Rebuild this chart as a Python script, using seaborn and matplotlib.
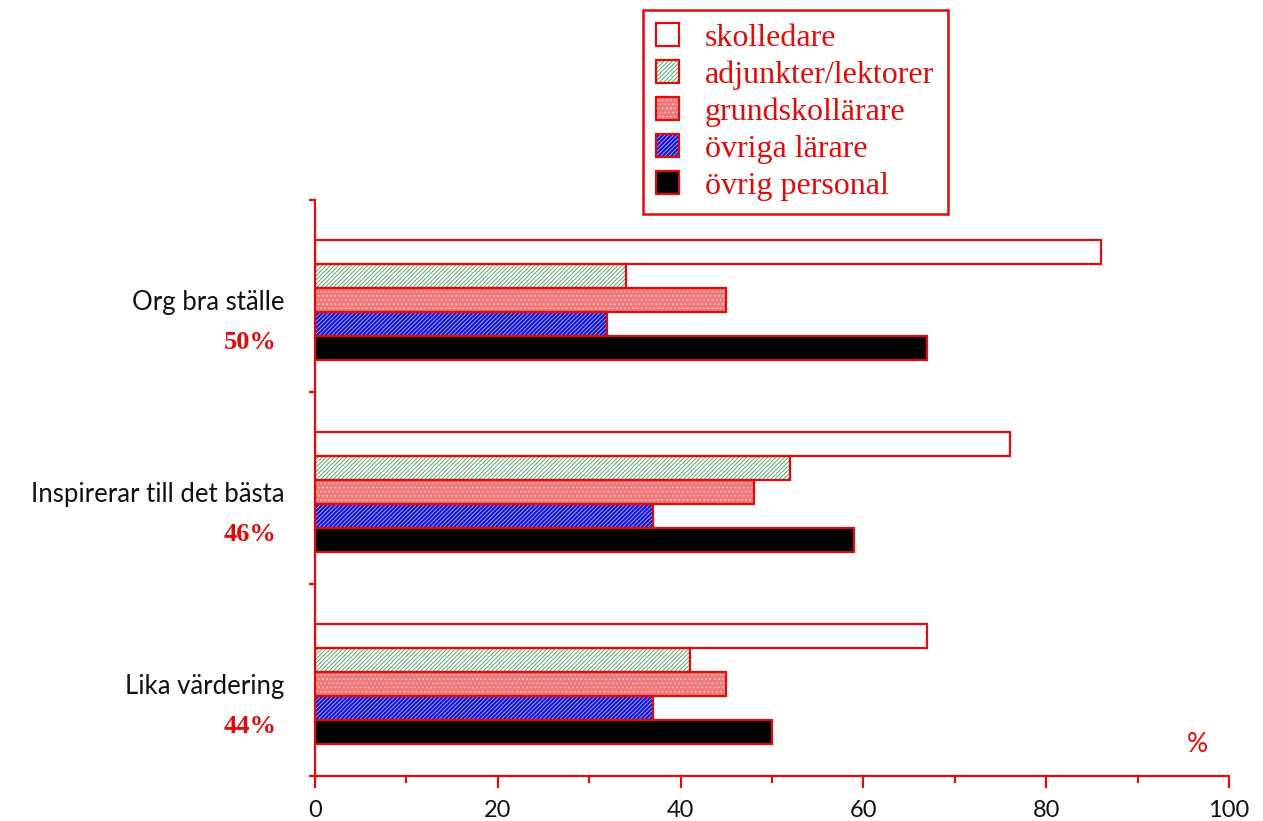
import numpy as np
import pandas as pd
import seaborn as sns
import matplotlib
matplotlib.use("Agg")
import matplotlib.pyplot as plt
import matplotlib.transforms as mtransforms
from matplotlib.patches import Patch, Rectangle
from matplotlib.ticker import MultipleLocator, FixedLocator, NullFormatter

# ---- data ----
categories = ["Org bra ställe", "Inspirerar till det bästa", "Lika värdering"]
totals = ["50%", "46%", "44%"]
groups = ["skolledare", "adjunkter/lektorer", "grundskollärare",
          "övriga lärare", "övrig personal"]
skolledare = [86, 76, 67]
adjunkter_lektorer = [34, 52, 41]
grundskollarare = [45, 48, 45]
ovriga_larare = [32, 37, 37]
ovrig_personal = [67, 59, 50]

series = [skolledare, adjunkter_lektorer, grundskollarare, ovriga_larare, ovrig_personal]
df = pd.DataFrame({
    "kategori": np.repeat([categories], len(groups), axis=0).ravel(),
    "grupp": np.repeat(groups, len(categories)),
    "andel": np.concatenate(series),
})

# ---- styling ----
RED = "#e00b0b"
fills = {
    "skolledare": ("white", None, None),
    "adjunkter/lektorer": ("white", "////////", "#3d9a55"),
    "grundskollärare": ("#f07878", "....", "#fbd0d0"),
    "övriga lärare": ("#1212d0", "////////", "#b8b8ff"),
    "övrig personal": ("black", None, None),
}

sns.set_style("white")
plt.rcParams["hatch.linewidth"] = 0.6
plt.rcParams["xtick.bottom"] = True
plt.rcParams["ytick.left"] = True
SANS = ["Lato", "DejaVu Sans"]
SERIF = ["Liberation Serif", "DejaVu Serif"]

fig = plt.figure(figsize=(12.63, 8.21), dpi=100)
ax = fig.add_axes([315 / 1263, 1 - 776 / 821, 914 / 1263, 576 / 821])

sns.barplot(data=df, y="kategori", x="andel", hue="grupp", hue_order=groups,
            order=categories, orient="h", width=0.625, saturation=1,
            legend=False, ax=ax)

EDGE_LW = 1.6
for container, grp in zip(ax.containers, groups):
    fc, hatch, hc = fills[grp]
    for bar in container:
        bar.set_facecolor(fc)
        if hatch:
            bar.set_hatch(hatch)
            bar.set_edgecolor(hc)
        else:
            bar.set_edgecolor(fc)
        bar.set_linewidth(0)
        ax.add_patch(Rectangle((bar.get_x(), bar.get_y()), bar.get_width(),
                               bar.get_height(), fill=False, edgecolor=RED,
                               linewidth=EDGE_LW, zorder=bar.get_zorder() + 0.1))

# ---- axes ----
shift = -0.02
ax.set_xlim(0, 100)
ax.set_ylim(len(categories) - 0.5 + shift, -0.5 + shift)
ax.set_xlabel("")
ax.set_ylabel("")

for side in ["top", "right"]:
    ax.spines[side].set_visible(False)
for side in ["left", "bottom"]:
    ax.spines[side].set_color(RED)
    ax.spines[side].set_linewidth(1.6)

ax.xaxis.set_major_locator(MultipleLocator(20))
ax.xaxis.set_minor_locator(MultipleLocator(10))
ax.tick_params(axis="x", which="major", bottom=True, direction="out", length=8.5,
               width=1.6, color=RED, labelcolor="#111111", pad=9)
ax.tick_params(axis="x", which="minor", bottom=True, direction="out", length=5,
               width=1.6, color=RED)
for lbl in ax.get_xticklabels():
    lbl.set_family(SANS)
    lbl.set_fontsize(17)

# band boundaries as major ticks, category names on minor ticks at band centres
ax.yaxis.set_major_locator(FixedLocator(np.arange(len(categories) + 1) - 0.5 + shift))
ax.yaxis.set_major_formatter(NullFormatter())
ax.set_yticks(np.arange(len(categories)), labels=categories, minor=True)
ax.tick_params(axis="y", which="major", left=True, direction="out", length=4.5,
               width=1.6, color=RED)
ax.tick_params(axis="y", which="minor", left=True, length=0, pad=22, labelcolor="#111111")
for lbl in ax.get_yticklabels(minor=True):
    lbl.set_family(SANS)
    lbl.set_fontsize(18.5)
    lbl.set_y(lbl.get_position()[1])

# overall share under each category name
trans = mtransforms.blended_transform_factory(fig.transFigure, ax.transData)
for i, t in enumerate(totals):
    ax.text(250 / 1263, i + 0.22, t, transform=trans, ha="center", va="center",
            color=RED, fontsize=19, fontweight="bold", family=SERIF)

ax.text(0.966, 0.055, "%", transform=ax.transAxes, ha="center", va="center",
        color=RED, fontsize=19, family=SANS)

# ---- legend ----
handles = []
for grp in groups:
    fc, hatch, hc = fills[grp]
    inner = Patch(facecolor=fc, hatch=hatch, edgecolor=hc if hatch else fc, linewidth=0)
    outer = Patch(fill=False, edgecolor=RED, linewidth=EDGE_LW)
    handles.append((inner, outer))

leg = fig.legend(handles, groups, loc="upper left",
                 bbox_to_anchor=(643 / 1263, 1 - 10 / 821),
                 bbox_transform=fig.transFigure, borderaxespad=0,
                 prop={"family": SERIF, "size": 23}, labelcolor=RED,
                 handlelength=0.72, handleheight=0.72, handletextpad=0.8,
                 labelspacing=0.23, borderpad=0.42, fancybox=False,
                 framealpha=1, edgecolor=RED)
leg.get_frame().set_linewidth(1.8)

fig.savefig("out.png", dpi=100)
